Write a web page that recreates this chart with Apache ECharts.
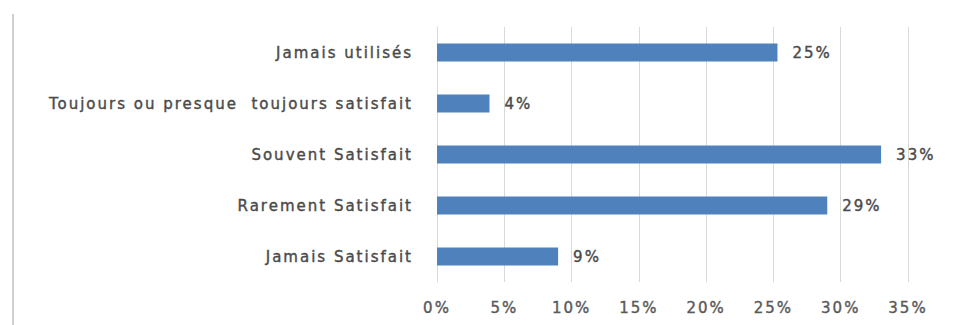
<!DOCTYPE html>
<html>
<head>
<meta charset="utf-8">
<script src="https://cdn.jsdelivr.net/npm/echarts@6/dist/echarts.min.js"></script>
<style>
  html, body { margin: 0; padding: 0; background: #fff; }
  #chart { width: 960px; height: 325px; }
  #chart text { letter-spacing: 2px; }
</style>
</head>
<body>
<div id="chart"></div>
<script>
// categories bottom-to-top as ECharts draws a category y axis
var categories = ['Jamais Satisfait', 'Rarement Satisfait', 'Souvent Satisfait', 'Toujours ou presque  toujours satisfait', 'Jamais utilisés'];
var values = [0.09, 0.29, 0.33, 0.039, 0.253];
var tickMax = 0.35;
var tickStep = 0.05;

var chart = echarts.init(document.getElementById('chart'), null, { renderer: 'svg' });
chart.setOption({
  animation: false,
  grid: { left: 437, right: 52, top: 27, bottom: 43 },
  graphic: [
    {
      type: 'line',
      shape: { x1: 13, y1: 14, x2: 13, y2: 325 },
      style: { stroke: '#d0d0d0', lineWidth: 2 }
    }
  ],
  xAxis: {
    type: 'value',
    min: 0,
    max: tickMax,
    interval: tickStep,
    axisLine: { show: false },
    axisTick: { show: false },
    splitLine: { lineStyle: { color: '#d9d9d9', width: 1 } },
    axisLabel: {
      color: '#5a5a5a',
      fontFamily: 'DejaVu Sans',
      fontSize: 15,
      textBorderColor: '#5a5a5a',
      textBorderWidth: 0.4,
      margin: 18,
      formatter: function(v) { return Math.round(v * 100) + '%'; }
    }
  },
  yAxis: {
    type: 'category',
    data: categories,
    axisLine: { lineStyle: { color: '#d9d9d9' } },
    axisTick: { show: false },
    axisLabel: {
      color: '#4a4a4a',
      fontFamily: 'DejaVu Sans',
      fontSize: 15,
      textBorderColor: '#4a4a4a',
      textBorderWidth: 0.4,
      margin: 24
    }
  },
  series: [
    {
      type: 'bar',
      data: values,
      barCategoryGap: '65%',
      itemStyle: { color: '#4f81bd' },
      label: {
        show: true,
        position: 'right',
        distance: 15,
        color: '#4a4a4a',
        fontFamily: 'DejaVu Sans',
        fontSize: 15,
        textBorderColor: '#4a4a4a',
        textBorderWidth: 0.4,
        formatter: function(p) { return Math.round(p.value * 100) + '%'; }
      }
    }
  ]
});
</script>
</body>
</html>
